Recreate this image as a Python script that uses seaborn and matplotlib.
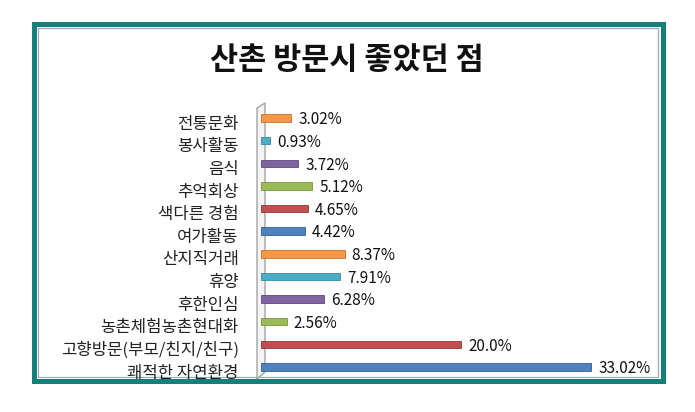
import matplotlib
matplotlib.use("Agg")
import matplotlib.pyplot as plt
import matplotlib.transforms as mtrans
import seaborn as sns
import pandas as pd
from matplotlib.patches import Rectangle, Polygon

categories = ["전통문화", "봉사활동", "음식", "추억회상", "색다른 경험", "여가활동",
              "산지직거래", "휴양", "후한인심", "농촌체험농촌현대화",
              "고향방문(부모/친지/친구)", "쾌적한 자연환경"]
values = [3.02, 0.93, 3.72, 5.12, 4.65, 4.42, 8.37, 7.91, 6.28, 2.56, 20.0, 33.02]
value_labels = ["3.02%", "0.93%", "3.72%", "5.12%", "4.65%", "4.42%",
                "8.37%", "7.91%", "6.28%", "2.56%", "20.0%", "33.02%"]
title = "산촌 방문시 좋았던 점"

colors = ["#F79646", "#4BACC6", "#8064A2", "#9BBB59", "#C0504D", "#4F81BD"] * 2
edge_colors = ["#c8702c", "#2f8aa3", "#5e4880", "#77933c", "#943634", "#365f91"] * 2

sns.set_theme(style="white")
plt.rcParams['font.family'] = ['Noto Sans CJK KR', 'DejaVu Sans']

W, H = 695, 412
fig = plt.figure(figsize=(W / 100, H / 100), dpi=100)


def fx(x):
    return x / W


def fy(y):
    return 1 - y / H


# frame
fig.patches.append(Rectangle((fx(33.5), fy(380.5)), 629 / W, 357 / H, transform=fig.transFigure,
                             fill=False, edgecolor="#138079", linewidth=3.6, zorder=0))
fig.patches.append(Rectangle((fx(37.5), fy(376.5)), 620 / W, 349 / H, transform=fig.transFigure,
                             fill=False, edgecolor="#a0a8b8", linewidth=0.9, zorder=0))

# 3D wall
wall = [(fx(257), fy(108)), (fx(265), fy(103)), (fx(265), fy(372)), (fx(257), fy(379))]
fig.patches.append(Polygon(wall, closed=True, transform=fig.transFigure, facecolor="#f4f4f4",
                           edgecolor="#9a9a9a", linewidth=0.9, zorder=1))

fig.text(fx(347), fy(60), title, ha="center", va="center", fontsize=22, fontweight="bold",
         color="#111111")

ax_left, ax_right = 261, 661
ax_top, ax_bot = 104.4, 380.6
ax = fig.add_axes([fx(ax_left), fy(ax_bot), (ax_right - ax_left) / W, (ax_bot - ax_top) / H])
ax.set_zorder(2)

df = pd.DataFrame({"cat": categories, "val": values})
sns.barplot(data=df, y="cat", x="val", hue="cat", palette=colors, legend=False,
            orient="h", width=0.33, ax=ax, linewidth=0.6, saturation=1)
for p, ec in zip(ax.patches, edge_colors):
    p.set_edgecolor(ec)

for i, (v, lab) in enumerate(zip(values, value_labels)):
    ax.text(v + 0.7, i + 0.08, lab, va="center", ha="left", fontsize=11, color="#111111")

ax.set_xlim(0, 40)
ax.set_ylim(11.6, -0.6)
ax.set_xlabel("")
ax.set_ylabel("")
ax.set_xticks([])
ax.tick_params(axis="y", length=0, pad=16, labelsize=12, labelcolor="#222222")
offset = mtrans.ScaledTranslation(0, -3 / 72, fig.dpi_scale_trans)
for lbl in ax.get_yticklabels():
    lbl.set_transform(lbl.get_transform() + offset)
for s in ["top", "right", "bottom", "left"]:
    ax.spines[s].set_visible(False)
ax.patch.set_alpha(0)

fig.savefig("out.png", dpi=100)
